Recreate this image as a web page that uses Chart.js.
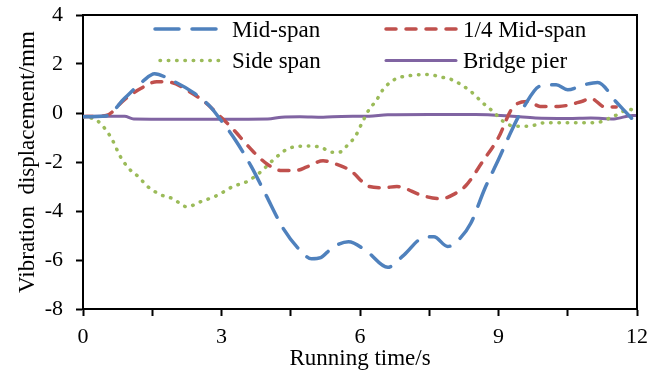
<!DOCTYPE html>
<html>
<head>
<meta charset="utf-8">
<script src="https://cdn.jsdelivr.net/npm/chart.js@4.4.1/dist/chart.umd.min.js"></script>
<style>
  html, body { margin: 0; padding: 0; background: #ffffff; }
  #wrap { width: 666px; height: 376px; position: relative; }
</style>
</head>
<body>
<div id="wrap"><canvas id="chart" width="666" height="376"></canvas></div>
<script>
// Series labels
const seriesNames = ['Mid-span', '1/4 Mid-span', 'Side span', 'Bridge pier'];

// Mid-span
const midSpanTime = [0, 0.5, 0.9, 1.3, 1.55, 1.9, 2.4, 2.75, 2.95, 3.3, 3.65, 3.95, 4.35, 4.7, 4.95, 5.15, 5.4, 5.75, 6.15, 6.6, 6.95, 7.35, 7.6, 7.9, 8.15, 8.4, 8.7, 9.0, 9.3, 9.55, 9.9, 10.25, 10.5, 10.85, 11.15, 11.55, 12];
const midSpanDisp = [-0.15, -0.12, 0.6, 1.3, 1.6, 1.35, 0.82, 0.27, -0.2, -1.1, -2.2, -3.3, -4.75, -5.6, -5.95, -5.9, -5.5, -5.25, -5.65, -6.3, -5.8, -5.1, -5.05, -5.45, -5.15, -4.5, -3.1, -1.9, -0.65, 0.25, 1.1, 1.15, 0.95, 1.15, 1.25, 0.45, -0.45];

// 1/4 Mid-span
const quarterSpanTime = [0, 0.5, 0.9, 1.25, 1.6, 1.9, 2.3, 2.65, 2.92, 3.25, 3.7, 4.0, 4.3, 4.6, 4.85, 5.2, 5.5, 5.8, 6.2, 6.5, 6.8, 7.35, 7.75, 8.05, 8.3, 8.65, 9.0, 9.3, 9.65, 9.9, 10.3, 10.8, 11.0, 11.3, 11.55];
const quarterSpanDisp = [-0.15, -0.1, 0.55, 1.0, 1.28, 1.25, 0.88, 0.43, -0.05, -0.66, -1.6, -2.1, -2.35, -2.35, -2.2, -1.95, -2.1, -2.36, -3.0, -3.05, -3.0, -3.37, -3.5, -3.3, -2.95, -2.0, -1.0, 0.2, 0.47, 0.27, 0.27, 0.47, 0.6, 0.25, 0.25];

// Side span
const sideSpanTime = [0, 0.3, 0.5, 0.65, 0.8, 1.0, 1.2, 1.4, 1.7, 1.95, 2.25, 2.55, 2.9, 3.25, 3.55, 3.85, 4.1, 4.45, 4.85, 5.15, 5.4, 5.55, 5.75, 5.9, 6.05, 6.2, 6.35, 6.5, 6.75, 7.1, 7.45, 7.8, 8.0, 8.4, 8.65, 8.9, 9.1, 9.35, 9.65, 10.0, 10.4, 10.8, 11.15, 11.5, 11.85, 12];
const sideSpanDisp = [-0.15, -0.3, -0.7, -1.15, -1.75, -2.28, -2.6, -3.0, -3.35, -3.5, -3.83, -3.62, -3.37, -3.0, -2.8, -2.4, -1.95, -1.45, -1.35, -1.4, -1.6, -1.6, -1.27, -0.95, -0.38, 0.15, 0.5, 0.96, 1.37, 1.53, 1.57, 1.45, 1.35, 0.88, 0.43, 0.03, -0.34, -0.54, -0.54, -0.4, -0.4, -0.4, -0.38, -0.13, 0.15, -0.05];

// Bridge pier
const pierTime = [0, 0.9, 1.1, 2, 3, 4, 4.3, 4.7, 5.2, 5.6, 6.2, 6.6, 7.5, 8.5, 9.3, 9.8, 10.5, 11, 11.5, 11.9, 12];
const pierDisp = [-0.13, -0.13, -0.24, -0.25, -0.25, -0.24, -0.17, -0.15, -0.17, -0.14, -0.13, -0.07, -0.06, -0.06, -0.13, -0.2, -0.22, -0.2, -0.24, -0.1, -0.1];

// Axis ticks
const timeTicks = [0, 3, 6, 9, 12];
const dispTicks = [-8, -6, -4, -2, 0, 2, 4];

const pairs = (xs, ys) => xs.map((x, i) => ({ x: x, y: ys[i] }));

const SERIF = '"Liberation Serif", "Times New Roman", serif';

const datasets = [
  { label: seriesNames[0], data: pairs(midSpanTime, midSpanDisp), borderColor: '#4F81BD', borderWidth: 3.5, borderDash: [24, 13], borderCapStyle: 'round' },
  { label: seriesNames[1], data: pairs(quarterSpanTime, quarterSpanDisp), borderColor: '#C0504D', borderWidth: 3.5, borderDash: [10, 10], borderCapStyle: 'round' },
  { label: seriesNames[2], data: pairs(sideSpanTime, sideSpanDisp), borderColor: '#9BBB59', borderWidth: 3.5, borderDash: [0.5, 7.8], borderCapStyle: 'round' },
  { label: seriesNames[3], data: pairs(pierTime, pierDisp), borderColor: '#8064A2', borderWidth: 3, borderDash: [], borderCapStyle: 'round' }
].map(d => Object.assign(d, { fill: false, pointRadius: 0, cubicInterpolationMode: 'monotone' }));

// Frame on the top and right of the plot
const framePlugin = {
  id: 'frame',
  afterDraw(chart) {
    const { ctx, chartArea: a } = chart;
    ctx.save();
    ctx.strokeStyle = '#000';
    ctx.lineWidth = 2;
    ctx.beginPath();
    ctx.moveTo(a.left, a.top);
    ctx.lineTo(a.right, a.top);
    ctx.lineTo(a.right, a.bottom);
    ctx.stroke();
    ctx.restore();
  }
};

// Two-column legend inside the plot
const legendPlugin = {
  id: 'gridLegend',
  afterDraw(chart) {
    const ctx = chart.ctx;
    const slots = [
      { i: 0, x0: 155, x1: 226, y: 29, tx: 232, ty: 37 },
      { i: 1, x0: 386, x1: 456, y: 29, tx: 463, ty: 37 },
      { i: 2, x0: 160, x1: 224, y: 60.5, tx: 232, ty: 68 },
      { i: 3, x0: 386, x1: 456, y: 60.5, tx: 463, ty: 68 }
    ];
    ctx.save();
    slots.forEach(s => {
      const ds = chart.data.datasets[s.i];
      ctx.strokeStyle = ds.borderColor;
      ctx.lineWidth = ds.borderWidth;
      ctx.lineCap = ds.borderCapStyle;
      ctx.setLineDash(ds.borderDash);
      ctx.beginPath();
      ctx.moveTo(s.x0, s.y);
      ctx.lineTo(s.x1, s.y);
      ctx.stroke();
      ctx.setLineDash([]);
      ctx.fillStyle = '#000';
      ctx.font = '23px ' + SERIF;
      ctx.textAlign = 'left';
      ctx.textBaseline = 'alphabetic';
      ctx.fillText(ds.label, s.tx, s.ty);
    });
    ctx.restore();
  }
};

new Chart(document.getElementById('chart'), {
  type: 'line',
  data: { datasets: datasets },
  options: {
    responsive: false,
    animation: false,
    layout: { padding: { top: 15, right: 29, bottom: 0, left: 0 } },
    plugins: { legend: { display: false }, tooltip: { enabled: false } },
    scales: {
      x: {
        type: 'linear',
        min: 0, max: 12,
        afterFit(scale) { scale.height = 67; scale.paddingLeft = 0; scale.paddingRight = 0; },
        ticks: {
          stepSize: 1.5,
          autoSkip: false,
          maxRotation: 0,
          padding: 8,
          color: '#000',
          font: { family: SERIF, size: 22 },
          callback: v => (timeTicks.includes(v) ? String(v) : '')
        },
        grid: { display: true, drawOnChartArea: false, drawTicks: true, tickLength: 7, tickColor: '#000', tickWidth: 2 },
        border: { display: true, color: '#000', width: 2 },
        title: { display: true, text: 'Running time/s', color: '#000', font: { family: SERIF, size: 23 }, padding: { top: 0, bottom: 3 } }
      },
      y: {
        min: -8, max: 4,
        afterFit(scale) { scale.width = 83; scale.paddingTop = 0; scale.paddingBottom = 0; },
        ticks: {
          stepSize: 2,
          padding: 13,
          color: '#000',
          font: { family: SERIF, size: 22 },
          callback: v => (dispTicks.includes(v) ? String(v) : '')
        },
        grid: { display: true, drawOnChartArea: false, drawTicks: true, tickLength: 7, tickColor: '#000', tickWidth: 2 },
        border: { display: true, color: '#000', width: 2 },
        title: { display: true, text: 'Vibration  displacement/mm', color: '#000', font: { family: SERIF, size: 23 }, padding: { top: 14, bottom: 0 } }
      }
    }
  },
  plugins: [framePlugin, legendPlugin]
});
</script>
</body>
</html>
